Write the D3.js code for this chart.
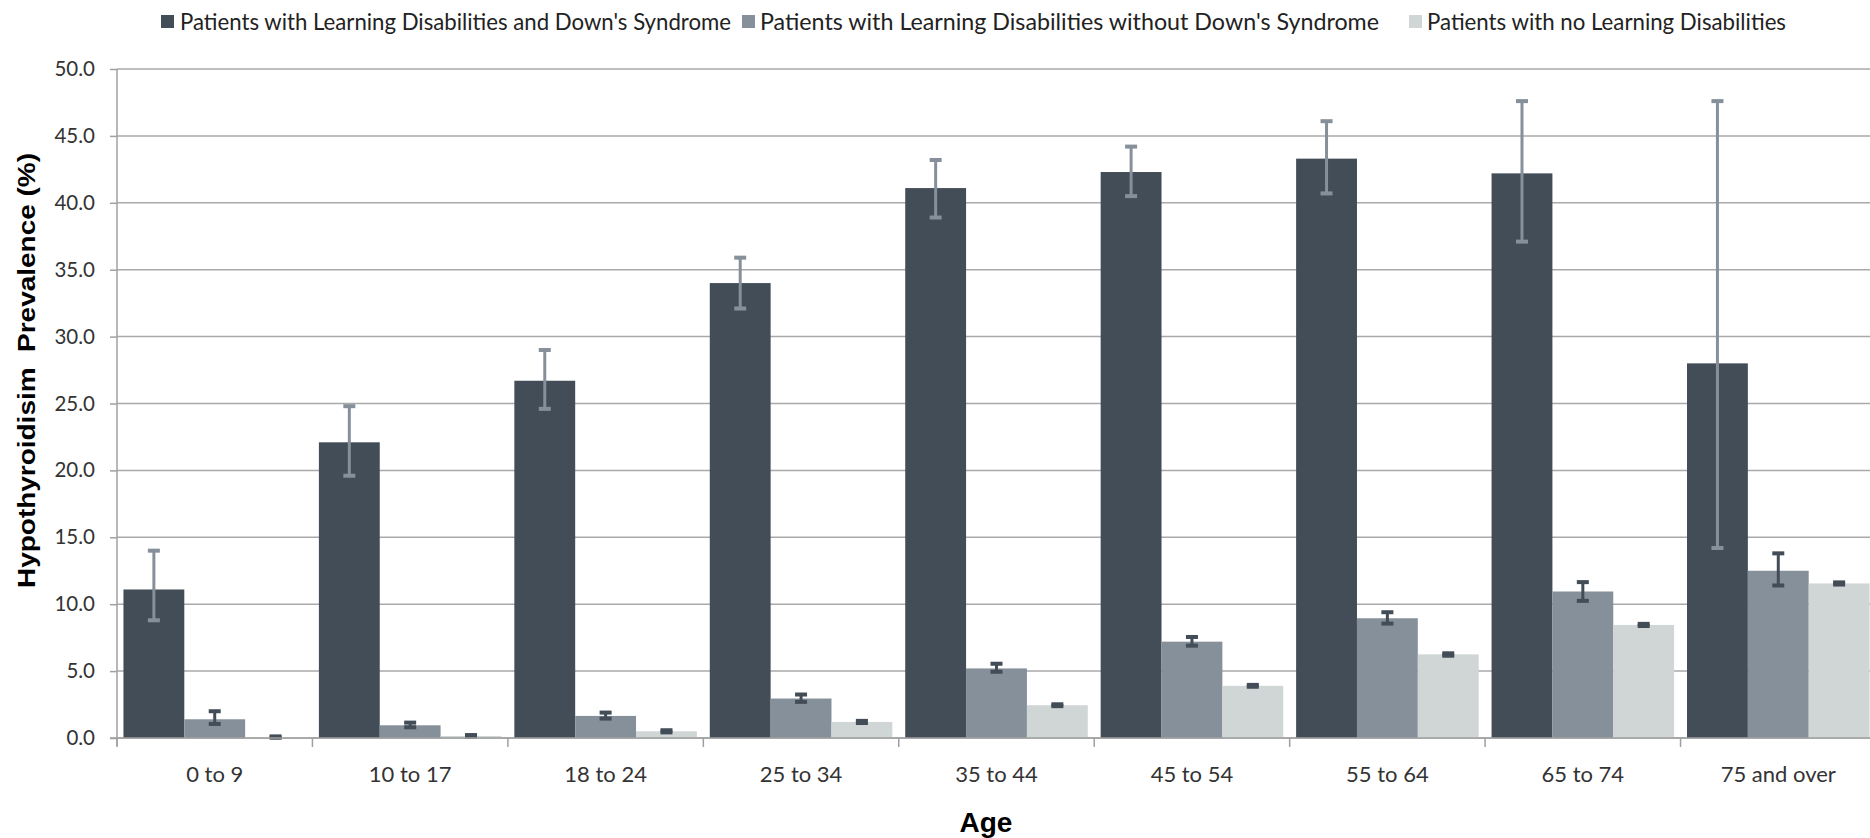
<!DOCTYPE html>
<html>
<head>
<meta charset="utf-8">
<script src="https://cdn.jsdelivr.net/npm/d3@7"></script>
<style>
  html, body { margin: 0; padding: 0; background: #ffffff; }
  svg { display: block; }
</style>
</head>
<body>
<svg id="chart" width="1870" height="838"></svg>
<script>
// ---- data ----
const categories = ["0 to 9", "10 to 17", "18 to 24", "25 to 34", "35 to 44", "45 to 54", "55 to 64", "65 to 74", "75 and over"];
const seriesNames = [
  "Patients with Learning Disabilities and Down's Syndrome",
  "Patients with Learning Disabilities without Down's Syndrome",
  "Patients with no Learning Disabilities"
];
const dsValues   = [11.1, 22.1, 26.7, 34.0, 41.1, 42.3, 43.3, 42.2, 28.0];
const dsLow      = [8.8, 19.6, 24.6, 32.1, 38.9, 40.5, 40.7, 37.1, 14.2];
const dsHigh     = [14.0, 24.8, 29.0, 35.9, 43.2, 44.2, 46.1, 47.6, 47.6];
const ldValues   = [1.4, 0.95, 1.65, 2.95, 5.2, 7.2, 8.95, 10.95, 12.5];
const ldLow      = [1.05, 0.8, 1.45, 2.7, 4.95, 6.9, 8.55, 10.25, 11.4];
const ldHigh     = [2.0, 1.15, 1.9, 3.25, 5.55, 7.55, 9.4, 11.65, 13.8];
const noValues   = [0.07, 0.15, 0.5, 1.2, 2.45, 3.9, 6.25, 8.45, 11.55];
const noLow      = [0.02, 0.1, 0.42, 1.12, 2.38, 3.83, 6.15, 8.37, 11.47];
const noHigh     = [0.12, 0.22, 0.58, 1.28, 2.52, 3.97, 6.33, 8.53, 11.63];
const yTicks     = [0, 5, 10, 15, 20, 25, 30, 35, 40, 45, 50];
const yTitle = "Hypothyroidisim\u00A0\u00A0Prevalence (%)";
const xTitle = "Age";

// ---- style ----
const colors = ["#434d57", "#86909a", "#d0d5d5"];
const errColors = ["#86909a", "#434d57", "#434d57"];
const labelFont = "Lato, 'Open Sans', sans-serif";
const titleFont = "'Liberation Sans', Arial, sans-serif";

const series = [
  { name: seriesNames[0], values: dsValues, low: dsLow, high: dsHigh },
  { name: seriesNames[1], values: ldValues, low: ldLow, high: ldHigh },
  { name: seriesNames[2], values: noValues, low: noLow, high: noHigh }
];

const svg = d3.select("#chart");
const plotLeft = 117, plotRight = 1876, plotTop = 69, plotBottom = 738;

const x = d3.scaleBand().domain(categories).range([plotLeft, plotRight]).paddingInner(0.066).paddingOuter(0.033);
const xs = d3.scaleBand().domain(d3.range(series.length)).range([0, x.bandwidth()]);
const y = d3.scaleLinear().domain([0, 50]).range([plotBottom, plotTop]);

// gridlines
svg.append("g").selectAll("line").data(yTicks).join("line")
  .attr("x1", plotLeft).attr("x2", 1870)
  .attr("y1", d => y(d)).attr("y2", d => y(d))
  .attr("stroke", "#a9a9a9").attr("stroke-width", 1.5);

// bars
const groups = svg.append("g").selectAll("g").data(series).join("g")
  .attr("fill", (d, i) => colors[i]);
groups.each(function(s, si) {
  d3.select(this).selectAll("rect").data(categories).join("rect")
    .attr("x", (c) => x(c) + xs(si))
    .attr("width", xs.bandwidth())
    .attr("y", (c, ci) => y(s.values[ci]))
    .attr("height", (c, ci) => y(0) - y(s.values[ci]));
});

// error bars
series.forEach((s, si) => {
  const g = svg.append("g").attr("fill", errColors[si]).attr("stroke", errColors[si]);
  categories.forEach((c, ci) => {
    const cx = x(c) + xs(si) + xs.bandwidth() / 2;
    const yl = y(s.low[ci]), yh = y(s.high[ci]);
    g.append("line").attr("x1", cx).attr("x2", cx).attr("y1", yl).attr("y2", yh)
      .attr("stroke-width", 3);
    g.append("rect").attr("x", cx - 6).attr("width", 12).attr("y", yh - 2).attr("height", 4).attr("stroke", "none");
    g.append("rect").attr("x", cx - 6).attr("width", 12).attr("y", yl - 2).attr("height", 4).attr("stroke", "none");
  });
});

// y axis
const yAxis = svg.append("g").attr("transform", `translate(${plotLeft},0)`)
  .call(d3.axisLeft(y).tickValues(yTicks).tickFormat(d3.format(".1f")).tickSize(7).tickSizeOuter(0).tickPadding(15));
yAxis.select(".domain").attr("stroke", "#a0a0a0").attr("stroke-width", 1.5).attr("d", `M0,${plotTop}V${plotBottom + 8}`);
yAxis.selectAll(".tick line").attr("stroke", "#a0a0a0").attr("stroke-width", 1.5);
yAxis.selectAll(".tick text").attr("font-family", labelFont).attr("font-size", 20.5).attr("fill", "#333333");

// x axis
const xAxis = svg.append("g").attr("transform", `translate(0,${plotBottom})`)
  .call(d3.axisBottom(x).tickSize(0).tickSizeOuter(0).tickPadding(28));
xAxis.select(".domain").attr("stroke", "#a0a0a0").attr("stroke-width", 1.5).attr("d", `M${plotLeft - 7},0H1870`);
xAxis.selectAll(".tick text").attr("font-family", labelFont).attr("font-size", 22).attr("fill", "#333333");
// category boundary ticks
const bounds = categories.map(c => x(c) - x.step() * x.paddingInner() / 2);
xAxis.append("g").selectAll("line").data(bounds).join("line")
  .attr("x1", d => d).attr("x2", d => d).attr("y1", 0).attr("y2", 9)
  .attr("stroke", "#a0a0a0").attr("stroke-width", 1.5);

// axis titles
svg.append("text")
  .attr("transform", "translate(35,370.5) rotate(-90)")
  .attr("text-anchor", "middle")
  .attr("font-family", titleFont).attr("font-weight", "bold").attr("font-size", 24)
  .attr("fill", "#000")
  .attr("textLength", 435).attr("lengthAdjust", "spacingAndGlyphs")
  .text(yTitle);
svg.append("text")
  .attr("x", 986).attr("y", 832)
  .attr("text-anchor", "middle")
  .attr("font-family", titleFont).attr("font-weight", "bold").attr("font-size", 28)
  .attr("fill", "#000")
  .text(xTitle);

// legend
const legendItems = [
  { sx: 161, tx: 180, w: 551 },
  { sx: 742, tx: 760, w: 619 },
  { sx: 1409, tx: 1427, w: 359 }
];
const lg = svg.append("g").selectAll("g").data(series).join("g");
lg.append("rect")
  .attr("x", (d, i) => legendItems[i].sx).attr("y", 15).attr("width", 13).attr("height", 13)
  .attr("fill", (d, i) => colors[i]);
lg.append("text")
  .attr("x", (d, i) => legendItems[i].tx).attr("y", 30)
  .attr("font-family", labelFont).attr("font-size", 23).attr("fill", "#222")
  .attr("textLength", (d, i) => legendItems[i].w).attr("lengthAdjust", "spacingAndGlyphs")
  .text(d => d.name);
</script>
</body>
</html>
